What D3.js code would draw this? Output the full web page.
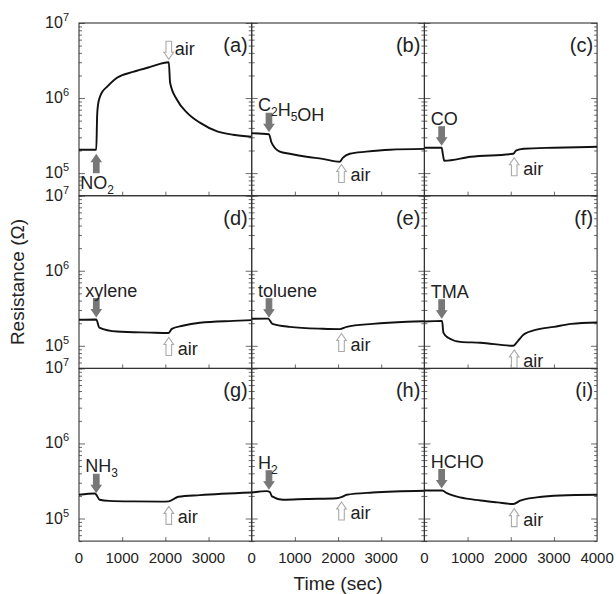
<!DOCTYPE html>
<html>
<head>
<meta charset="utf-8">
<script src="https://cdn.jsdelivr.net/npm/d3@7"></script>
<style>
  body { margin: 0; background: #fff; }
  text { font-family: Arial, "Liberation Sans", sans-serif; fill: #222; }
</style>
</head>
<body>
<div id="chart"></div>
<script>
// Sensor response, time in sec / resistance in ohm
const tA = [0, 400, 420, 440, 486, 540, 648, 880, 1250, 1650, 2080, 2110, 2270, 2500, 2800, 3200, 3570, 4000];
const rA = [2.05e5, 2.05e5, 5.8e5, 8.1e5, 1.04e6, 1.21e6, 1.41e6, 1.86e6, 2.23e6, 2.6e6, 3.0e6, 1.6e6, 9.5e5, 6.4e5, 4.7e5, 3.6e5, 3.24e5, 3.05e5];
const tB = [0, 400, 460, 650, 880, 1270, 1640, 2040, 2110, 2270, 2650, 3200, 4000];
const rB = [3.4e5, 3.3e5, 2.54e5, 1.93e5, 1.81e5, 1.65e5, 1.55e5, 1.42e5, 1.6e5, 1.81e5, 1.93e5, 2.05e5, 2.1e5];
const tC = [0, 400, 430, 460, 1070, 2060, 2120, 2300, 3000, 4000];
const rC = [2.18e5, 2.18e5, 1.75e5, 1.46e5, 1.65e5, 1.81e5, 1.99e5, 2.11e5, 2.18e5, 2.24e5];
const tD = [0, 400, 470, 880, 1650, 2070, 2150, 2400, 2800, 3570, 4000];
const rD = [2.22e5, 2.24e5, 1.75e5, 1.55e5, 1.5e5, 1.48e5, 1.68e5, 1.85e5, 2.03e5, 2.15e5, 2.2e5];
const tE = [0, 380, 480, 880, 1640, 2040, 2200, 2800, 3600, 4000];
const rE = [2.29e5, 2.3e5, 1.96e5, 1.79e5, 1.69e5, 1.67e5, 1.79e5, 1.96e5, 2.09e5, 2.12e5];
const tF = [0, 410, 440, 550, 830, 1300, 2060, 2150, 2300, 2600, 3000, 3400, 4000];
const rF = [2.11e5, 2.15e5, 1.5e5, 1.28e5, 1.13e5, 1.1e5, 1.0e5, 1.13e5, 1.41e5, 1.64e5, 1.79e5, 1.96e5, 2.04e5];
const tG = [0, 370, 480, 700, 1250, 1900, 2080, 2300, 2800, 4000];
const rG = [2.07e5, 2.15e5, 1.78e5, 1.72e5, 1.69e5, 1.68e5, 1.69e5, 1.95e5, 2.05e5, 2.22e5];
const tH = [0, 350, 420, 470, 720, 1270, 1970, 2100, 2200, 2800, 4000];
const rH = [2.22e5, 2.32e5, 2.25e5, 1.97e5, 1.78e5, 1.82e5, 1.86e5, 1.95e5, 2.07e5, 2.22e5, 2.34e5];
const tI = [0, 410, 520, 830, 1300, 1690, 2060, 2220, 2600, 3150, 4000];
const rI = [2.36e5, 2.36e5, 2.18e5, 1.91e5, 1.74e5, 1.64e5, 1.56e5, 1.73e5, 1.91e5, 2.03e5, 2.07e5];

const letters = ["a", "b", "c", "d", "e", "f", "g", "h", "i"];
const gases = ["NO_2", "C_2H_5OH", "CO", "xylene", "toluene", "TMA", "NH_3", "H_2", "HCHO"];
const gasOnTime = 400;   // gas injected
const airOnTime = 2080;  // back to air
const xTicks = [0, 1000, 2000, 3000, 4000];
const decades = [1e5, 1e6, 1e7];
const series = [[tA, rA], [tB, rB], [tC, rC], [tD, rD], [tE, rE], [tF, rF], [tG, rG], [tH, rH], [tI, rI]];

const W = 616, H = 594;
const marginL = 79, marginT = 23, pw = 172.7, ph = 172.7;

const svg = d3.select("#chart").append("svg")
    .attr("width", W)
    .attr("height", H);

const minors = [];
[1e4, 1e5, 1e6].forEach(d => d3.range(2, 10).forEach(k => {
    if (k * d >= 5e4 && k * d < 1e7) minors.push(k * d);
}));

// value at time t, linear interpolation on the log
function valueAt(ts, rs, t) {
    const i = d3.bisectRight(ts, t) - 1;
    const j = Math.min(i + 1, ts.length - 1);
    if (i === j) return rs[i];
    const f = (t - ts[i]) / (ts[j] - ts[i]);
    return Math.pow(10, Math.log10(rs[i]) + f * (Math.log10(rs[j]) - Math.log10(rs[i])));
}

// block arrow, dir = 1 points down, -1 points up
function arrow(g, cx, tipY, dir, filled) {
    const L = 18, hl = 7, hh = 4.8, sh = 2.8;
    const pts = [[0, 0], [hh, -hl], [sh, -hl], [sh, -L], [-sh, -L], [-sh, -hl], [-hh, -hl]]
        .map(p => [cx + p[0], tipY + p[1] * dir]);
    g.append("polygon")
        .attr("points", pts.map(p => p.join(",")).join(" "))
        .style("fill", filled ? "#777" : "#fff")
        .style("stroke", filled ? "#777" : "#aaa")
        .style("stroke-width", 1.1);
}

// text with "_n" subscripts
function chemText(g, x, y, s) {
    const t = g.append("text").attr("x", x).attr("y", y).style("font-size", "18px");
    s.split(/(_\d)/).filter(d => d).forEach(part => {
        if (part[0] === "_") {
            t.append("tspan").attr("dy", 5).style("font-size", "12px").text(part[1]);
            t.append("tspan").attr("dy", -5).text("");
        } else {
            t.append("tspan").text(part);
        }
    });
}

series.forEach(([ts, rs], i) => {
    const col = i % 3, row = Math.floor(i / 3);
    const x0 = marginL + col * pw, y0 = marginT + row * ph;
    const x = d3.scaleLinear().domain([0, 4000]).range([x0, x0 + pw]);
    const y = d3.scaleLog().domain([5e4, 1e7]).range([y0 + ph, y0]);
    const g = svg.append("g");

    // inward ticks
    const tickStyle = s => s.call(a => a.select(".domain").remove())
        .selectAll("line").style("stroke", "#444").style("stroke-width", 0.8);
    g.append("g").attr("transform", `translate(0,${y0 + ph})`)
        .call(d3.axisBottom(x).tickValues([1000, 2000, 3000]).tickSize(-4).tickFormat(""))
        .call(tickStyle);
    [[d3.axisLeft, x0], [d3.axisRight, x0 + pw]].forEach(([ax, px]) => {
        g.append("g").attr("transform", `translate(${px},0)`)
            .call(ax(y).tickValues(decades).tickSize(-6).tickFormat(""))
            .call(tickStyle);
        g.append("g").attr("transform", `translate(${px},0)`)
            .call(ax(y).tickValues(minors).tickSize(-3).tickFormat(""))
            .call(tickStyle);
    });

    g.append("rect")
        .attr("x", x0).attr("y", y0)
        .attr("width", pw).attr("height", ph)
        .style("fill", "none")
        .style("stroke", "#333")
        .style("stroke-width", 1.1);

    // x labels on the bottom row
    if (row === 2) {
        const vals = col === 2 ? xTicks : xTicks.slice(0, 4);
        g.selectAll(".xl").data(vals).enter().append("text")
            .attr("x", d => x(d))
            .attr("y", y0 + ph + 22)
            .attr("text-anchor", "middle")
            .style("font-size", "15px")
            .text(d => d);
    }
    // y labels on the left column
    if (col === 0) {
        decades.forEach(d => {
            const t = g.append("text")
                .attr("x", x0 - 10)
                .attr("y", y(d) + 5)
                .attr("text-anchor", "end")
                .style("font-size", "16px");
            t.append("tspan").text("10");
            t.append("tspan").attr("dy", -7).style("font-size", "11px").text(Math.round(Math.log10(d)));
        });
    }

    // curve
    const line = d3.line()
        .x((d, k) => x(ts[k]))
        .y(d => y(d))
        .curve(d3.curveMonotoneX);
    g.append("path")
        .attr("d", line(rs))
        .style("fill", "none")
        .style("stroke", "#111")
        .style("stroke-width", 1.9);

    // panel letter
    g.append("text")
        .attr("x", x0 + pw - 4)
        .attr("y", y0 + 29)
        .attr("text-anchor", "end")
        .style("font-size", "20px")
        .text("(" + letters[i] + ")");

    // gas / air arrows
    const gx = x(gasOnTime), gy = y(valueAt(ts, rs, gasOnTime));
    const ax = x(airOnTime), ay = y(valueAt(ts, rs, airOnTime));
    if (i === 0) {
        arrow(g, gx, gy + 5, -1, true);
        chemText(g, gx - 16, gy + 39, gases[i]);
        const peak = y(d3.max(rs));
        arrow(g, ax, peak - 3, 1, false);
        g.append("text").attr("x", ax + 6).attr("y", peak - 7)
            .style("font-size", "18px").text("air");
    } else {
        arrow(g, gx, gy - 3, 1, true);
        chemText(g, gx - 11, gy - 23, gases[i]);
        arrow(g, ax, ay + 5, -1, false);
        g.append("text").attr("x", ax + 9).attr("y", ay + 22)
            .style("font-size", "18px").text("air");
    }
});

// axis titles
svg.append("text")
    .attr("transform", `translate(24,${marginT + 1.5 * ph}) rotate(-90)`)
    .attr("text-anchor", "middle")
    .style("font-size", "19px")
    .text("Resistance (Ω)");

svg.append("text")
    .attr("x", marginL + 1.5 * pw)
    .attr("y", 590)
    .attr("text-anchor", "middle")
    .style("font-size", "19px")
    .text("Time (sec)");
</script>
</body>
</html>
